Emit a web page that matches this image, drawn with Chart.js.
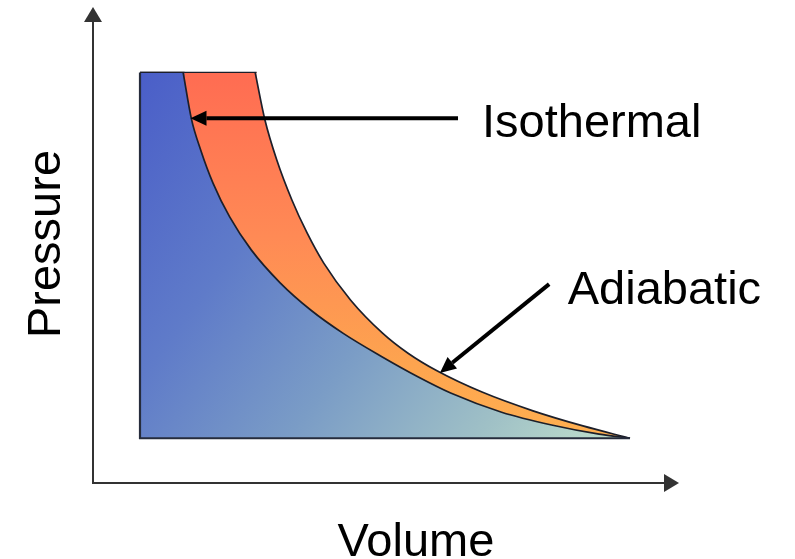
<!DOCTYPE html>
<html>
<head>
<meta charset="utf-8">
<script src="https://cdn.jsdelivr.net/npm/chart.js@4.4.1/dist/chart.umd.min.js"></script>
<style>
  html, body { margin: 0; padding: 0; background: #ffffff; }
  #wrap { width: 795px; height: 559px; }
</style>
</head>
<body>
<div id="wrap"><canvas id="pvChart" width="795" height="559"></canvas></div>
<script>
// Box that the curves sit in (volume / pressure, arbitrary units)
const boxVolume = [1, 11];
const boxPressure = [1, 9];

// Isothermal curve
const isoVolume = [1.88, 2.05, 2.24, 2.49, 2.83, 3.27, 3.86, 4.49, 5.14, 5.91, 6.68, 7.34, 8.38, 9.4, 10.37, 11];
const isoPressure = [9, 7.98, 7.3, 6.58, 5.84, 5.12, 4.4, 3.8, 3.3, 2.8, 2.34, 1.99, 1.57, 1.29, 1.09, 1];

// Adiabatic curve
const adiVolume = [3.35, 3.55, 3.79, 4.1, 4.41, 4.75, 5.3, 5.95, 6.47, 7.07, 7.98, 9.02, 10.04, 11];
const adiPressure = [9, 7.96, 7.09, 6.21, 5.49, 4.83, 4.02, 3.3, 2.86, 2.47, 2.01, 1.6, 1.27, 1];

// Axis ranges
const volumeRange = [0, 12];
const pressureRange = [0, 10.3];

// Labels
const labelIso = 'Isothermal';
const labelAdi = 'Adiabatic';
const labelX = 'Volume';
const labelY = 'Pressure';

const FONT = '47px "Liberation Sans", Arial, Helvetica, sans-serif';
const OUTLINE = '#1c1f2a';
// tiny overlap so the flat tops join the curve fills without a seam
const JOIN = 0.03;

function toPoints(xs, ys) {
    return xs.map((x, i) => ({ x: x, y: ys[i] }));
}

/**
 * Fill gradients built from the scales
 */
function blueGradient(context) {
    const chart = context.chart;
    if (!chart.chartArea) return '#5a72c8';
    const xs = chart.scales.x, ys = chart.scales.y;
    const g = chart.ctx.createLinearGradient(
        xs.getPixelForValue(boxVolume[0]), ys.getPixelForValue(boxPressure[1]),
        xs.getPixelForValue(boxVolume[1]), ys.getPixelForValue(boxPressure[0])
    );
    g.addColorStop(0, '#4a5ec8');
    g.addColorStop(0.3, '#5f7bc9');
    g.addColorStop(0.55, '#7a9cc6');
    g.addColorStop(0.8, '#9fc0c6');
    g.addColorStop(1, '#c2e2cc');
    return g;
}

function redGradient(context) {
    const chart = context.chart;
    if (!chart.chartArea) return '#ff8a55';
    const ys = chart.scales.y;
    const g = chart.ctx.createLinearGradient(
        0, ys.getPixelForValue(boxPressure[1]), 0, ys.getPixelForValue(boxPressure[0])
    );
    g.addColorStop(0, '#ff6c52');
    g.addColorStop(0.45, '#ff8a55');
    g.addColorStop(0.8, '#fda44f');
    g.addColorStop(1, '#ffb050');
    return g;
}

/**
 * Axis arrows, annotation arrows and labels
 */
const annotations = {
    iso: { from: { x: 7.49, y: 8.0 }, to: { x: 2.03, y: 8.0 }, text: { x: 7.98, y: 7.59 } },
    adi: { from: { x: 9.35, y: 4.37 }, to: { x: 7.12, y: 2.43 }, text: { x: 9.73, y: 3.94 } }
};

function drawArrow(ctx, x1, y1, x2, y2, width, headLen, headHalf, color) {
    const ang = Math.atan2(y2 - y1, x2 - x1);
    const bx = x2 - headLen * Math.cos(ang);
    const by = y2 - headLen * Math.sin(ang);
    ctx.save();
    ctx.strokeStyle = color;
    ctx.fillStyle = color;
    ctx.lineWidth = width;
    ctx.beginPath();
    ctx.moveTo(x1, y1);
    ctx.lineTo(bx, by);
    ctx.stroke();
    ctx.beginPath();
    ctx.moveTo(x2, y2);
    ctx.lineTo(bx - headHalf * Math.sin(ang), by + headHalf * Math.cos(ang));
    ctx.lineTo(bx + headHalf * Math.sin(ang), by - headHalf * Math.cos(ang));
    ctx.closePath();
    ctx.fill();
    ctx.restore();
}

const decorPlugin = {
    id: 'decor',
    afterDraw(chart) {
        const ctx = chart.ctx;
        const xs = chart.scales.x, ys = chart.scales.y;
        const ox = xs.getPixelForValue(volumeRange[0]) + 2;
        const oy = ys.getPixelForValue(pressureRange[0]) - 1;

        // axes with arrow heads
        drawArrow(ctx, ox, oy + 1, ox, 7, 2, 15, 9, '#333333');
        drawArrow(ctx, ox - 1, oy, xs.right, oy, 2, 15, 9, '#333333');

        // annotation arrows
        Object.values(annotations).forEach(a => {
            drawArrow(ctx,
                xs.getPixelForValue(a.from.x), ys.getPixelForValue(a.from.y),
                xs.getPixelForValue(a.to.x), ys.getPixelForValue(a.to.y),
                4, 16, 7.5, '#000000');
        });

        ctx.save();
        ctx.fillStyle = '#000000';
        ctx.font = FONT;
        ctx.textAlign = 'left';
        ctx.textBaseline = 'alphabetic';
        ctx.fillText(labelIso, xs.getPixelForValue(annotations.iso.text.x), ys.getPixelForValue(annotations.iso.text.y));
        ctx.fillText(labelAdi, xs.getPixelForValue(annotations.adi.text.x), ys.getPixelForValue(annotations.adi.text.y));

        // axis titles
        ctx.textAlign = 'center';
        ctx.fillText(labelX, 416, 556);
        ctx.translate(60, 244);
        ctx.rotate(-Math.PI / 2);
        ctx.fillText(labelY, 0, 0);
        ctx.restore();
    }
};

new Chart(document.getElementById('pvChart'), {
    type: 'line',
    data: {
        datasets: [
            {
                // left and bottom edge of the box
                label: 'frame',
                data: toPoints([boxVolume[0], boxVolume[0], boxVolume[1]], [boxPressure[1], boxPressure[0], boxPressure[0]]),
                borderColor: '#262c3c',
                borderWidth: 2.2,
                fill: false,
                tension: 0,
                pointRadius: 0,
            },
            {
                label: labelIso,
                data: toPoints(isoVolume, isoPressure),
                borderColor: OUTLINE,
                borderWidth: 1.7,
                backgroundColor: blueGradient,
                fill: { value: boxPressure[0] },
                cubicInterpolationMode: 'monotone',
                pointRadius: 0,
            },
            {
                // flat top of the blue part
                label: 'blueTop',
                data: toPoints([boxVolume[0], isoVolume[0] + JOIN], [boxPressure[1], isoPressure[0]]),
                borderColor: OUTLINE,
                borderWidth: 1.2,
                backgroundColor: blueGradient,
                fill: { value: boxPressure[0] },
                tension: 0,
                pointRadius: 0,
            },
            {
                label: labelAdi,
                data: toPoints(adiVolume, adiPressure),
                borderColor: OUTLINE,
                borderWidth: 1.7,
                backgroundColor: redGradient,
                fill: { value: boxPressure[0] },
                cubicInterpolationMode: 'monotone',
                pointRadius: 0,
            },
            {
                // flat top of the red band
                label: 'redTop',
                data: toPoints([boxVolume[0], adiVolume[0] + JOIN], [boxPressure[1], adiPressure[0]]),
                borderColor: OUTLINE,
                borderWidth: 1.2,
                backgroundColor: redGradient,
                fill: { value: boxPressure[0] },
                tension: 0,
                pointRadius: 0,
            }
        ]
    },
    options: {
        responsive: false,
        animation: false,
        layout: {
            padding: { left: 91, right: 116, top: 13, bottom: 75 }
        },
        plugins: {
            legend: { display: false },
            tooltip: { enabled: false }
        },
        scales: {
            x: { type: 'linear', min: volumeRange[0], max: volumeRange[1], display: false },
            y: { type: 'linear', min: pressureRange[0], max: pressureRange[1], display: false }
        }
    },
    plugins: [decorPlugin]
});
</script>
</body>
</html>
